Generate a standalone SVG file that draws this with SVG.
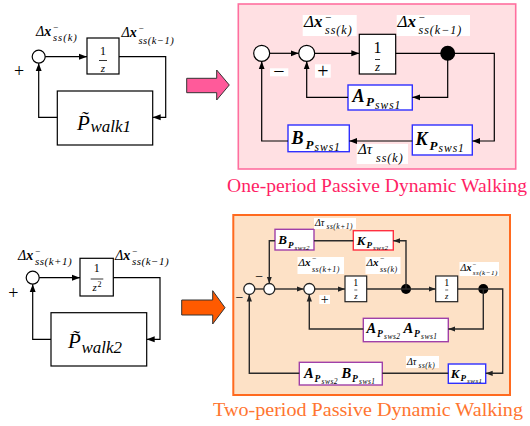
<svg xmlns="http://www.w3.org/2000/svg" width="530" height="426" viewBox="0 0 530 426">
  <defs>
    <marker id="ah" markerUnits="userSpaceOnUse" markerWidth="8" markerHeight="8" viewBox="0 0 8 8" refX="8" refY="4" orient="auto">
      <path d="M0,1 L8,4 L0,7 Z" fill="#000"/>
    </marker>
    <marker id="ahd" markerUnits="userSpaceOnUse" markerWidth="7" markerHeight="7" viewBox="0 0 8 8" refX="8" refY="4" orient="auto">
      <path d="M0,1 L8,4 L0,7 Z" fill="#222"/>
    </marker>
    <style>
      .m { font-family: "Liberation Serif", "DejaVu Serif", serif; fill: #000; }
      .ttl { font-family: "Liberation Serif", "DejaVu Serif", serif; }
      .i { font-style: italic; }
      .b { font-weight: bold; font-style: italic; }
      .ls { letter-spacing: 1px; }
      .lss { letter-spacing: 0.5px; }
      .blk { fill: #fff; stroke: #000; stroke-width: 1.2; }
      .sum { fill: #fff; stroke: #000; stroke-width: 1.2; }
      .sumd { fill: #fff; stroke: #222; stroke-width: 1.3; }
      .wire { fill: none; stroke: #000; stroke-width: 1.2; }
      .wired { fill: none; stroke: #2a2a2a; stroke-width: 1.4; }
      .bg { fill: #fff; }
      .gblue { fill: #fff; stroke: #3030ff; stroke-width: 1.4; }
      .gpur { fill: #fff; stroke: #a040a8; stroke-width: 1.4; }
      .gred { fill: #fff; stroke: #ff3040; stroke-width: 1.4; }
    </style>
  </defs>

  <!-- ===== upper left: one-period loop ===== -->
  <g id="tl-sum"><circle class="sum" cx="38.7" cy="56.7" r="6.5"/></g>
  <g id="tl-delay">
    <rect class="blk" x="87" y="38" width="32" height="36"/>
    <text class="m" x="103" y="55" font-size="12" text-anchor="middle">1</text>
    <line x1="99" y1="60.5" x2="107" y2="60.5" stroke="#000" stroke-width="0.8"/>
    <text class="m i" x="103" y="71.5" font-size="11" text-anchor="middle">z</text>
  </g>
  <g id="tl-plant">
    <rect class="blk" x="57.3" y="91" width="95.4" height="54"/>
    <text class="m i" font-size="21"><tspan x="77" y="129.5">P̃</tspan><tspan x="90.5" y="132" font-size="17">walk1</tspan></text>
  </g>
  <g id="tl-labels">
    <text class="m" x="19" y="77.3" font-size="18" text-anchor="middle">+</text>
    <text class="m" font-size="14"><tspan class="i" x="36" y="36">Δ</tspan><tspan class="b">x</tspan><tspan x="53" y="30" font-size="9">−</tspan><tspan class="i ls" x="53" y="41" font-size="10.5">ss(k)</tspan></text>
    <text class="m" font-size="14"><tspan class="i" x="121.5" y="37">Δ</tspan><tspan class="b">x</tspan><tspan x="138.5" y="31" font-size="9">−</tspan><tspan class="i lss" x="138.5" y="44" font-size="10.5">ss(k−1)</tspan></text>
  </g>
  <g id="tl-wires">
    <path class="wire" d="M45.2,56.7 H87" marker-end="url(#ah)"/>
    <path class="wire" d="M119,56.7 H165.7 V117.3 H152.7" marker-end="url(#ah)"/>
    <path class="wire" d="M57.3,117.3 H38.7 V63.2" marker-end="url(#ah)"/>
  </g>

  <!-- pink arrow -->
  <g id="arrow-pink">
    <path d="M186.7,78.3 H216.7 V70 L229.3,85 L216.7,100 V92.7 H186.7 Z" fill="#ff5a9a" stroke="#333" stroke-width="1"/>
  </g>

  <!-- ===== upper right: one-period feedback with gains ===== -->
  <g id="tr-panel">
    <rect x="238.3" y="4" width="277.4" height="165" fill="#ffe0e3" stroke="#ff6f9f" stroke-width="1.6"/>
    <text class="ttl" x="227" y="191.5" font-size="19.5" fill="#ff1f66" textLength="300" lengthAdjust="spacingAndGlyphs">One-period Passive Dynamic Walking</text>
  </g>
  <g id="tr-sum1"><circle class="sum" cx="261.7" cy="53.3" r="8"/></g>
  <g id="tr-sum2"><circle class="sum" cx="306.7" cy="53.3" r="8"/></g>
  <g id="tr-delay">
    <rect class="blk" x="359.3" y="34.3" width="36.4" height="39.7"/>
    <text class="m" x="377.5" y="53" font-size="16" text-anchor="middle">1</text>
    <line x1="375" y1="59.5" x2="380" y2="59.5" stroke="#000" stroke-width="0.8"/>
    <text class="m i" x="377.5" y="71" font-size="13" text-anchor="middle">z</text>
  </g>
  <g id="tr-node"><circle cx="447.7" cy="53.3" r="7.5" fill="#000"/></g>
  <g id="tr-A">
    <rect class="gblue" x="348" y="85" width="64.3" height="25"/>
    <text class="m" font-size="18"><tspan class="b" x="352.5" y="101.5">A</tspan><tspan class="b" x="366" y="106" font-size="13">P</tspan><tspan class="i ls" x="375" y="108.5" font-size="11.5">sws1</tspan></text>
  </g>
  <g id="tr-K">
    <rect class="gblue" x="412.3" y="125" width="60" height="30"/>
    <text class="m" font-size="18"><tspan class="b" x="415.5" y="145">K</tspan><tspan class="b" x="429.5" y="149.5" font-size="13">P</tspan><tspan class="i ls" x="438.5" y="152" font-size="11.5">sws1</tspan></text>
  </g>
  <g id="tr-B">
    <rect class="gblue" x="288" y="125" width="61.3" height="26.7"/>
    <text class="m" font-size="18"><tspan class="b" x="291.5" y="144">B</tspan><tspan class="b" x="305.5" y="148.5" font-size="13">P</tspan><tspan class="i ls" x="314.5" y="151" font-size="11.5">sws1</tspan></text>
  </g>
  <g id="tr-labels">
    <rect class="bg" x="302.7" y="15" width="54" height="21"/>
    <text class="m" font-size="17"><tspan class="i" x="304" y="27">Δ</tspan><tspan class="b">x</tspan><tspan x="325" y="20.5" font-size="11">−</tspan><tspan class="i ls" x="325" y="33.5" font-size="12">ss(k)</tspan></text>
    <rect class="bg" x="396.7" y="15" width="73.3" height="21"/>
    <text class="m" font-size="17"><tspan class="i" x="397.5" y="27">Δ</tspan><tspan class="b">x</tspan><tspan x="418.5" y="20.5" font-size="11">−</tspan><tspan class="i ls" x="418.5" y="33.5" font-size="12">ss(k−1)</tspan></text>
    <rect class="bg" x="356.7" y="144" width="51.3" height="20"/>
    <text class="m" font-size="15"><tspan class="i" x="358" y="153.5">Δτ</tspan><tspan class="i ls" x="376" y="161.5" font-size="12">ss(k)</tspan></text>
    <rect class="bg" x="270" y="68.3" width="18.3" height="8"/>
    <text class="m" x="279" y="77.5" font-size="20" text-anchor="middle">−</text>
    <rect class="bg" x="315" y="64.3" width="15.7" height="13.4"/>
    <text class="m" x="322.8" y="77.5" font-size="20" text-anchor="middle">+</text>
  </g>
  <g id="tr-wires">
    <path class="wire" d="M269.7,53.3 H298.7" marker-end="url(#ah)"/>
    <path class="wire" d="M314.7,53.3 H359.3" marker-end="url(#ah)"/>
    <path class="wire" d="M395.7,53.3 H494.3 V141 H472.3" marker-end="url(#ah)"/>
    <path class="wire" d="M447.7,53.3 V97.3 H412.3" marker-end="url(#ah)"/>
    <path class="wire" d="M348,97.3 H306.7 V61.3" marker-end="url(#ah)"/>
    <path class="wire" d="M412.3,141 H349.3" marker-end="url(#ah)"/>
    <path class="wire" d="M288,141 H261.7 V61.3" marker-end="url(#ah)"/>
  </g>

  <!-- ===== lower left: two-period loop ===== -->
  <g id="bl-sum"><circle class="sum" cx="32.7" cy="277.7" r="6.5"/></g>
  <g id="bl-delay">
    <rect class="blk" x="80" y="258.3" width="33.3" height="37.7"/>
    <text class="m" x="96.7" y="271.7" font-size="12" text-anchor="middle">1</text>
    <line x1="90.7" y1="279" x2="103.3" y2="279" stroke="#000" stroke-width="0.8"/>
    <text class="m" font-size="11"><tspan class="i" x="92.5" y="290.5">z</tspan><tspan x="97.5" y="286.5" font-size="8">2</tspan></text>
  </g>
  <g id="bl-plant">
    <rect class="blk" x="51" y="312.7" width="95.7" height="53.3"/>
    <text class="m i" font-size="21"><tspan x="68" y="348">P̃</tspan><tspan x="81.5" y="352.5" font-size="17">walk2</tspan></text>
  </g>
  <g id="bl-labels">
    <text class="m" x="13.3" y="299" font-size="18" text-anchor="middle">+</text>
    <text class="m" font-size="14"><tspan class="i" x="18" y="259.5">Δ</tspan><tspan class="b">x</tspan><tspan x="35" y="253.5" font-size="9">−</tspan><tspan class="i lss" x="35" y="264.5" font-size="11">ss(k+1)</tspan></text>
    <text class="m" font-size="14"><tspan class="i" x="115" y="260">Δ</tspan><tspan class="b">x</tspan><tspan x="132" y="254" font-size="9">−</tspan><tspan class="i lss" x="132" y="265" font-size="11">ss(k−1)</tspan></text>
  </g>
  <g id="bl-wires">
    <path class="wire" d="M39.2,277.7 H80" marker-end="url(#ah)"/>
    <path class="wire" d="M113.3,277.7 H160 V339.3 H146.7" marker-end="url(#ah)"/>
    <path class="wire" d="M51,339.3 H32.7 V284.2" marker-end="url(#ah)"/>
  </g>

  <!-- orange arrow -->
  <g id="arrow-orange">
    <path d="M181.7,300 H212.7 V290.7 L225,307.7 L212.7,324 V315 H181.7 Z" fill="#ff5a00" stroke="#333" stroke-width="1"/>
  </g>

  <!-- ===== lower right: two-period feedback with gains ===== -->
  <g id="br-panel">
    <rect x="233.3" y="215" width="276.7" height="180" fill="#fde1c6" stroke="#ff6a1f" stroke-width="2"/>
    <text class="ttl" x="213" y="415.5" font-size="19.8" fill="#ff7530" textLength="310" lengthAdjust="spacingAndGlyphs">Two-period Passive Dynamic Walking</text>
  </g>
  <g id="br-sum1"><circle class="sumd" cx="249.3" cy="289" r="5.5"/></g>
  <g id="br-sum2"><circle class="sumd" cx="269.3" cy="289" r="5.5"/></g>
  <g id="br-sum3"><circle class="sumd" cx="309.3" cy="289" r="5.5"/></g>
  <g id="br-delay1">
    <rect class="blk" x="345" y="276" width="21.7" height="25.7" style="stroke:#222"/>
    <text class="m" x="355.8" y="286" font-size="10" text-anchor="middle">1</text>
    <line x1="354.3" y1="290" x2="357.3" y2="290" stroke="#000" stroke-width="0.6"/>
    <text class="m i" x="355.8" y="298.5" font-size="8.5" text-anchor="middle">z</text>
  </g>
  <g id="br-node1"><circle cx="406" cy="289" r="5" fill="#000"/></g>
  <g id="br-delay2">
    <rect class="blk" x="435.7" y="276" width="22" height="25.7" style="stroke:#222"/>
    <text class="m" x="446.7" y="286" font-size="10" text-anchor="middle">1</text>
    <line x1="445.2" y1="290" x2="448.2" y2="290" stroke="#000" stroke-width="0.6"/>
    <text class="m i" x="446.7" y="298.5" font-size="8.5" text-anchor="middle">z</text>
  </g>
  <g id="br-node2"><circle cx="483.3" cy="289" r="5" fill="#000"/></g>
  <g id="br-B2">
    <rect class="gpur" x="275" y="229.3" width="39" height="20.7"/>
    <text class="m" font-size="13"><tspan class="b" x="278.3" y="244">B</tspan><tspan class="b" x="288" y="247.5" font-size="9">P</tspan><tspan class="i lss" x="294.5" y="249.5" font-size="7">sws2</tspan></text>
  </g>
  <g id="br-K2">
    <rect class="gred" x="353.3" y="230.7" width="40" height="19.3"/>
    <text class="m" font-size="13"><tspan class="b" x="356.7" y="244.5">K</tspan><tspan class="b" x="366.5" y="248" font-size="9">P</tspan><tspan class="i lss" x="373" y="250" font-size="7">sws2</tspan></text>
  </g>
  <g id="br-AA">
    <rect class="gpur" x="363.3" y="318.3" width="85" height="23.4"/>
    <text class="m" font-size="14.5"><tspan class="b" x="366.5" y="332.5">A</tspan><tspan class="b" x="377" y="336.5" font-size="9.5">P</tspan><tspan class="i lss" x="384" y="338.5" font-size="7.5">sws2</tspan><tspan class="b" x="403.5" y="332.5">A</tspan><tspan class="b" x="414" y="336.5" font-size="9.5">P</tspan><tspan class="i lss" x="421" y="338.5" font-size="7.5">sws1</tspan></text>
  </g>
  <g id="br-AB">
    <rect class="gpur" x="299.3" y="362.3" width="83" height="22.7"/>
    <text class="m" font-size="14.5"><tspan class="b" x="304" y="377.5">A</tspan><tspan class="b" x="314.5" y="381.5" font-size="9.5">P</tspan><tspan class="i lss" x="321.5" y="383.5" font-size="7.5">sws2</tspan><tspan class="b" x="341.5" y="377.5">B</tspan><tspan class="b" x="352" y="381.5" font-size="9.5">P</tspan><tspan class="i lss" x="359" y="383.5" font-size="7.5">sws1</tspan></text>
  </g>
  <g id="br-K1">
    <rect class="gblue" x="448.3" y="364" width="37.4" height="19.3"/>
    <text class="m" font-size="13"><tspan class="b" x="450.7" y="377.5">K</tspan><tspan class="b" x="460.5" y="381" font-size="9">P</tspan><tspan class="i lss" x="467" y="383" font-size="7">sws1</tspan></text>
  </g>
  <g id="br-labels">
    <rect class="bg" x="314" y="218" width="42" height="11"/>
    <text class="m" font-size="10"><tspan class="i" x="315" y="225.5">Δτ</tspan><tspan class="i lss" x="326.5" y="229" font-size="7.5">ss(k+1)</tspan></text>
    <rect class="bg" x="297.5" y="257" width="46.5" height="17"/>
    <text class="m" font-size="11"><tspan class="i" x="298.5" y="266">Δ</tspan><tspan class="b">x</tspan><tspan x="312" y="261" font-size="7.5">−</tspan><tspan class="i lss" x="312" y="272" font-size="8">ss(k+1)</tspan></text>
    <rect class="bg" x="365.5" y="257" width="35" height="17"/>
    <text class="m" font-size="11"><tspan class="i" x="366.5" y="266">Δ</tspan><tspan class="b">x</tspan><tspan x="380" y="261" font-size="7.5">−</tspan><tspan class="i lss" x="380" y="272" font-size="8">ss(k)</tspan></text>
    <rect class="bg" x="459.5" y="262" width="39.5" height="14"/>
    <text class="m" font-size="10"><tspan class="i" x="460.5" y="271">Δ</tspan><tspan class="b">x</tspan><tspan x="472.8" y="266.5" font-size="6.5">−</tspan><tspan class="i lss" x="472.8" y="275" font-size="7">ss(k−1)</tspan></text>
    <rect class="bg" x="406" y="356" width="33" height="12"/>
    <text class="m" font-size="10"><tspan class="i" x="407" y="364.5">Δτ</tspan><tspan class="i lss" x="418.5" y="367.5" font-size="7.5">ss(k)</tspan></text>
    <text class="m" x="239.5" y="302" font-size="14" text-anchor="middle">−</text>
    <text class="m" x="259.2" y="281" font-size="14" text-anchor="middle">−</text>
    <rect class="bg" x="319.3" y="295" width="10.7" height="9"/>
    <text class="m" x="324.7" y="304" font-size="14" text-anchor="middle">+</text>
  </g>
  <g id="br-wires">
    <path class="wired" d="M254.8,289 H263.8"/>
    <path class="wired" d="M274.8,289 H303.8" marker-end="url(#ahd)"/>
    <path class="wired" d="M314.8,289 H345" marker-end="url(#ahd)"/>
    <path class="wired" d="M366.7,289 H435.7" marker-end="url(#ahd)"/>
    <path class="wired" d="M457.7,289 H502.7 V373.3 H485.7" marker-end="url(#ahd)"/>
    <path class="wired" d="M406,289 V240.7 H393.3" marker-end="url(#ahd)"/>
    <path class="wired" d="M353.3,240.7 H314"/>
    <path class="wired" d="M275,240.7 H269.3 V283.5" marker-end="url(#ahd)"/>
    <path class="wired" d="M483.3,289 V329 H448.3" marker-end="url(#ahd)"/>
    <path class="wired" d="M363.3,329 H309.3 V294.5" marker-end="url(#ahd)"/>
    <path class="wired" d="M448.3,373.3 H382.3"/>
    <path class="wired" d="M299.3,373.3 H249.3 V294.5" marker-end="url(#ahd)"/>
  </g>
</svg>
